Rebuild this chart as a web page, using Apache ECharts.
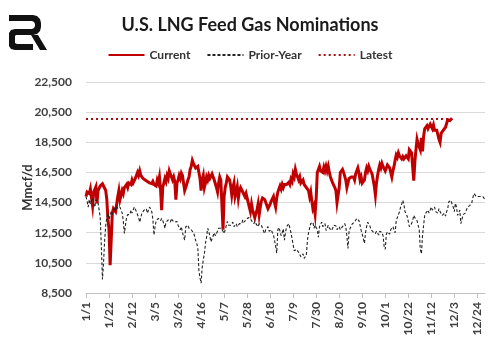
<!DOCTYPE html>
<html>
<head>
<meta charset="utf-8">
<script src="https://cdn.jsdelivr.net/npm/echarts@6/dist/echarts.min.js"></script>
<style>
  html, body { margin: 0; padding: 0; background: #fff; }
  #chart { width: 500px; height: 340px; }
</style>
</head>
<body>
<div id="chart"></div>
<script>
// daily values, Mmcf/d; index = day of year (0 = 1/1)
var currentValues = [
  14900,15200,15300,15100,15400,15450,14300,15200,15300,15550, // 0
  14450,15300,15200,15600,15500,15750,15600,15500,15300,14700, // 10
  13400,12700,10350,12000,13800,14100,14200,13900,14400,14900, // 20
  15300,14700,15000,15300,15100,15500,15400,15700,15500,15800, // 30
  15850,15700,16000,15800,15900,16100,16200,16500,16300,16600, // 40
  16300,16400,16100,16200,16000,16100,15900,16000,15800,15900, // 50
  15750,15900,15700,15800,15600,16000,15800,16200,15400,14000, // 60
  15500,15800,16100,15900,16300,16100,16600,16400,16300,16000, // 70
  16200,15900,14700,15800,16000,16300,16100,16450,16300,16200, // 80
  15300,15500,15400,16000,16200,16700,16900,17300,17100,17000, // 90
  16800,16800,16900,16500,16100,15300,16000,16300,15500,15800, // 100
  16200,16000,16300,16100,16100,16400,16200,16000,15900,15500, // 110
  15200,15800,16200,16000,15900,12700,14900,15500,15800,16200, // 120
  16300,16000,15600,15000,15500,15800,14900,15200,15550,14800, // 130
  15300,15500,15600,15200,15300,14900,15100,15000,14500,14200, // 140
  13900,14400,14000,14100,13500,13800,14000,14400,13700,14200, // 150
  14600,14800,14900,14700,14500,14400,14100,14000,14400,14600, // 160
  14700,14900,14500,14200,14800,15200,15400,15600,15400,15700, // 170
  15500,15700,15600,15700,15600,15850,15700,16050,15900,16400, // 180
  16200,16700,16400,16300,16000,16200,15800,15900,16000,15700, // 190
  15600,15500,15500,15300,14900,15200,14600,14100,14300,13750, // 200
  14800,16500,16700,16900,16600,16700,16500,16850,16600,16900, // 210
  16600,16900,16500,16200,16000,15800,15700,15500,15300,14500, // 220
  14400,15500,16500,16600,16700,16500,16400,16000,15500,15800, // 230
  16100,16000,16200,16100,16200,16000,16400,16300,16800,16500, // 240
  16000,16200,15800,15900,16000,16500,16800,16600,16900,16700, // 250
  16600,16400,16300,15600,15000,15800,16300,16700,17000,16800, // 260
  17100,16900,16900,16600,16700,17000,16900,16800,16500,16200, // 270
  16600,16900,17300,17650,17500,17800,17600,17600,17400,17550, // 280
  17400,17450,17600,17500,17400,18000,18100,17800,17700,15950, // 290
  17200,18000,18700,18400,18300,18000,18800,17900,18900,19400, // 300
  19500,19600,19400,19500,19700,19550,19400,19650,19300,19400, // 310
  19300,19000,18700,18500,19100,19200,19300,19250,19500,19600, // 320
  20000,19900,19950,20050,20100                                // 330
];

var priorYearValues = [
  14900,14600,14200,14700,14400,14500,14800,14400,14200,14700, // 0
  14600,14500,14000,13500,11600,9400,10500,12000,13000,13500,  // 10
  13800,13400,13500,13900,13700,13600,14200,13900,14300,14100, // 20
  14000,14200,14000,13800,13300,12450,13000,13500,13700,13800, // 30
  13700,14000,13800,13900,14200,14100,13900,13800,13500,13200, // 40
  13500,13800,13700,14000,13900,14100,13800,14000,14200,14100, // 50
  13900,13400,12350,12900,13300,13200,13450,13400,13300,13450, // 60
  13300,13100,12800,13200,13100,13350,13300,13200,13450,13300, // 70
  13300,13200,13100,13250,13000,12900,12700,12900,12500,12600, // 80
  12000,12900,12800,13000,12800,12900,12700,12600,12500,12300, // 90
  12000,11800,11500,10000,9500,9150,10200,10700,11100,11800,   // 100
  12200,12800,12600,12500,11900,12100,12200,12500,12300,12400, // 110
  12600,12800,12900,12800,12700,12600,12450,12700,13000,13250, // 120
  13000,12900,13000,13100,13200,12900,13000,13100,12900,13000, // 130
  13100,13200,13100,13350,13200,13100,13350,13300,13500,13400, // 140
  13450,13300,13200,13100,13250,13100,13000,12900,13100,13150, // 150
  13000,12800,12600,12450,12700,12800,12900,12600,12500,12700, // 160
  12500,12350,12000,11600,11150,12700,12850,12600,12300,12500, // 170
  12750,12000,12500,12900,13000,13100,12800,12500,12100,11700, // 180
  11300,11400,11400,11300,11200,11100,10900,11000,11100,10800, // 190
  10900,11000,12000,12500,12800,13100,13000,13200,12800,13000, // 200
  13100,12700,12200,12900,13000,13200,12900,12800,13100,12650, // 210
  12800,13000,12800,12700,12650,12800,13000,12900,12950,12700, // 220
  12800,12900,12700,12800,12900,13000,13100,12900,12300,11450, // 230
  12600,12800,12900,13100,13000,13200,13300,13450,13550,13300, // 240
  13000,12650,12400,12100,11800,12500,12900,13200,13100,12950, // 250
  12700,12600,12550,12500,12450,12600,12500,12350,12600,12550, // 260
  12500,12300,11600,11400,12400,12550,12500,12400,12700,12600, // 270
  12900,12800,12500,13300,13500,13700,13900,14200,14400,14650, // 280
  14400,13900,13800,13600,13500,12900,13000,13100,13300,13650, // 290
  13500,13400,13300,13000,12700,11400,11100,12300,13000,13650, // 300
  13800,13900,14000,13800,14000,14200,14000,14100,14200,13900, // 310
  14000,13800,14100,13900,14000,13650,13700,13800,13600,13900, // 320
  14100,14550,14600,14650,14400,14200,13900,14450,14200,13650, // 330
  13800,14000,13100,13400,13700,13600,13800,14000,14200,14100, // 340
  14300,14200,14500,14850,15100,15000,14900,14800,14900,15000, // 350
  14900,14800,14900,14800,14700                                // 360
];

var latestValue = 20050;

var tickLabels = ['1/1','1/22','2/12','3/5','3/26','4/16','5/7','5/28','6/18','7/9',
                  '7/30','8/20','9/10','10/1','10/22','11/12','12/3','12/24'];

function withDays(values) {
  return values.map(function (v, i) { return [i, v]; });
}

var latestData = [[0, latestValue], [currentValues.length - 1, latestValue]];

var font = 'Lato';
var chart = echarts.init(document.getElementById('chart'));

chart.setOption({
  animation: false,
  title: {
    text: 'U.S. LNG Feed Gas Nominations',
    left: 'center',
    top: 11,
    textStyle: { fontFamily: font, fontSize: 18, fontWeight: 'bold', color: '#1a1a1a' }
  },
  legend: {
    top: 44,
    left: 'center',
    itemWidth: 36,
    itemHeight: 10,
    itemGap: 16,
    itemStyle: { opacity: 0 },
    textStyle: { fontFamily: font, fontSize: 12, fontWeight: 'bold', color: '#333' },
    data: ['Current', 'Prior-Year', 'Latest']
  },
  grid: { left: 86, right: 15, top: 82, bottom: 47 },
  xAxis: {
    type: 'value',
    min: 0,
    max: 364,
    interval: 21,
    axisLine: { lineStyle: { color: '#bfbfbf' } },
    axisTick: { show: true, length: 5, lineStyle: { color: '#bfbfbf' } },
    splitLine: { show: false },
    axisLabel: {
      rotate: 90,
      margin: 9,
      showMaxLabel: false,
      fontFamily: font,
      fontSize: 12,
      fontWeight: 'bold',
      color: '#404040',
      formatter: function (v) { return tickLabels[Math.round(v / 21)] || ''; }
    }
  },
  yAxis: {
    type: 'value',
    min: 8500,
    max: 22500,
    interval: 2000,
    name: 'Mmcf/d',
    nameLocation: 'middle',
    nameGap: 52,
    nameMoveOverlap: false,
    nameTextStyle: { fontFamily: font, fontSize: 13, fontWeight: 'bold', color: '#333' },
    axisLine: { show: false },
    axisTick: { show: false },
    splitLine: { lineStyle: { color: '#d9d9d9', width: 1 } },
    axisLabel: {
      margin: 14,
      fontFamily: font,
      fontSize: 12,
      fontWeight: 'bold',
      color: '#404040',
      formatter: function (v) { return v.toLocaleString('en-US'); }
    }
  },
  graphic: [
    { type: 'polygon', shape: { points: [[9,15],[33,15],[37,16],[40,19],[41,23],[41,27],[40,31],[37,34],[33,35],[17,35],[17,29],[32,29],[34,28],[35,26],[35,24],[34,22],[32,21],[9,21]] }, style: { fill: '#111' } },
    { type: 'polygon', shape: { points: [[18,29],[15,29],[11,30],[9,33],[9,46],[11,49],[15,50],[33,50],[33,44],[17,44],[15,43],[15,36],[16,35],[18,35]] }, style: { fill: '#111' } },
    { type: 'polygon', shape: { points: [[31,35],[38,35],[47,50],[40,50]] }, style: { fill: '#111' } }
  ],
  series: [
    {
      name: 'Current',
      type: 'line',
      data: withDays(currentValues),
      symbol: 'none',
      smooth: false,
      lineStyle: { color: '#c00000', width: 3, join: 'miter' },
      itemStyle: { color: '#c00000' }
    },
    {
      name: 'Prior-Year',
      type: 'line',
      data: withDays(priorYearValues),
      symbol: 'none',
      smooth: false,
      lineStyle: { color: '#222', width: 1.1, type: [3, 2] },
      itemStyle: { color: '#222' }
    },
    {
      name: 'Latest',
      type: 'line',
      data: latestData,
      symbol: 'none',
      lineStyle: { color: '#a50f0f', width: 2, type: [2, 3] },
      itemStyle: { color: '#a50f0f' }
    }
  ]
});
</script>
</body>
</html>
